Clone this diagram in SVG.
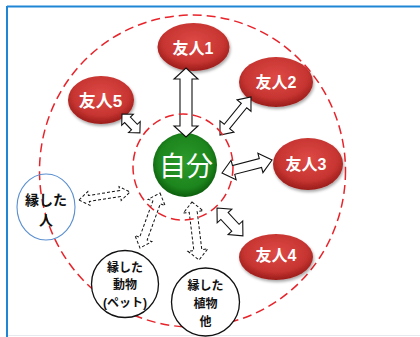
<svg xmlns="http://www.w3.org/2000/svg" width="420" height="337" viewBox="0 0 420 337">
<defs>
<radialGradient id="gRed" cx="50%" cy="40%" r="60%">
<stop offset="0" stop-color="#de4a46"/>
<stop offset="0.7" stop-color="#c73531"/>
<stop offset="1" stop-color="#9a1c1a"/>
</radialGradient>
<radialGradient id="gGreen" cx="50%" cy="45%" r="55%">
<stop offset="0" stop-color="#2b9a2b"/>
<stop offset="0.75" stop-color="#1d851d"/>
<stop offset="1" stop-color="#0c5e0c"/>
</radialGradient>
<filter id="sh" x="-30%" y="-30%" width="160%" height="170%">
<feDropShadow dx="1" dy="2" stdDeviation="1.6" flood-color="#000" flood-opacity="0.35"/>
</filter>
</defs>
<style>
.frame{fill:none;stroke:#1f86d6;stroke-width:2}
.rdash{fill:none;stroke:#e8232a;stroke-width:1.5;stroke-dasharray:9 5}
.friend{fill:url(#gRed);filter:url(#sh)}
.ft{font-family:"Liberation Sans","Noto Sans CJK JP",sans-serif;font-weight:bold;font-size:16px;fill:#fff;text-anchor:middle}
.bt{font-family:"Liberation Sans","Noto Sans CJK JP",sans-serif;font-weight:bold;font-size:12px;fill:#111;text-anchor:middle}
.arr{fill:#fff;stroke:#111;stroke-width:1.1;stroke-linejoin:miter}
.darr{fill:#fff;stroke:#111;stroke-width:1;stroke-dasharray:3 2}
.wc{fill:#fff;stroke:#111;stroke-width:1.3}
</style>
<rect x="0" y="0" width="420" height="337" fill="#fff"/>
<line x1="7" y1="6.5" x2="420" y2="6.5" class="frame"/>
<line x1="7" y1="6" x2="7" y2="337" class="frame"/>
<line x1="8" y1="335.5" x2="420" y2="335.5" stroke="#e6e9ee" stroke-width="1"/>

<g id="outer-circle"><ellipse cx="192.5" cy="171" rx="153" ry="156" class="rdash"/></g>

<g id="node-en-hito">
<ellipse cx="46" cy="207" rx="29" ry="33" fill="none" stroke="#5b8fd0" stroke-width="1.1"/>
<text x="46" y="205" class="bt" style="font-size:14px">縁した</text>
<text x="46" y="225" class="bt" style="font-size:14px">人</text>
</g>

<g id="node-doubutsu">
<circle cx="125" cy="284" r="33.5" class="wc"/>
<text x="125" y="271.5" class="bt">縁した</text>
<text x="125" y="289" class="bt">動物</text>
<text x="125" y="306.5" class="bt">(ペット)</text>
</g>

<g id="node-shokubutsu">
<circle cx="205.5" cy="302" r="34" class="wc"/>
<text x="205.5" y="289.5" class="bt">縁した</text>
<text x="205.5" y="307.5" class="bt">植物</text>
<text x="205.5" y="326" class="bt">他</text>
</g>

<g id="node-yujin1"><ellipse cx="193.5" cy="47" rx="36" ry="24" class="friend"/><text x="193" y="54" class="ft">友人1</text></g>
<g id="node-yujin2"><ellipse cx="276" cy="82" rx="37" ry="25" class="friend"/><text x="276" y="88" class="ft">友人2</text></g>
<g id="node-yujin3"><ellipse cx="308" cy="164" rx="35" ry="26" class="friend"/><text x="306" y="169.5" class="ft">友人3</text></g>
<g id="node-yujin4"><ellipse cx="276" cy="257" rx="37" ry="23" class="friend"/><text x="276" y="261" class="ft">友人4</text></g>
<g id="node-yujin5"><ellipse cx="101" cy="100" rx="33" ry="24" class="friend"/><text x="100.5" y="106.5" class="ft" style="font-size:17px">友人5</text></g>

<g id="node-jibun">
<circle cx="185" cy="165" r="32" fill="url(#gGreen)"/>
<text x="186" y="175.5" font-family="Noto Sans CJK JP, sans-serif" font-size="27" fill="#fff" text-anchor="middle">自分</text>
</g>

<g id="connectors">
<polygon class="arr" transform="translate(186,68) rotate(90)" points="0,0 11,-12 11,-6 58,-6 58,-12 69,0 58,12 58,6 11,6 11,12"/>
<polygon class="arr" transform="translate(220,135) rotate(-50.8)" points="0,0 11,-9 11,-3.5 38,-3.5 38,-9 49,0 38,9 38,3.5 11,3.5 11,9"/>
<polygon class="arr" transform="translate(222,173) rotate(-14.6)" points="0,0 12,-10 12,-4.5 39.7,-4.5 39.7,-10 51.7,0 39.7,10 39.7,4.5 12,4.5 12,10"/>
<polygon class="arr" transform="translate(217,208) rotate(47)" points="0,0 11,-10 11,-5 27,-5 27,-10 38,0 27,10 27,5 11,5 11,10"/>
<polygon class="arr" transform="translate(122,114) rotate(46.5)" points="0,0 8,-8 8,-4 18,-4 18,-8 26,0 18,8 18,4 8,4 8,8"/>
<polygon class="darr" transform="translate(79,200) rotate(-8.9)" points="0,0 10,-7 10,-3 41.6,-3 41.6,-7 51.6,0 41.6,7 41.6,3 10,3 10,7"/>
<polygon class="darr" transform="translate(160,193) rotate(110)" points="0,0 10,-9 10,-4 48.5,-4 48.5,-9 58.5,0 48.5,9 48.5,4 10,4 10,9"/>
<polygon class="darr" transform="translate(192,202) rotate(83.1)" points="0,0 10,-10 10,-4 48.4,-4 48.4,-10 58.4,0 48.4,10 48.4,4 10,4 10,10"/>
</g>

<g id="inner-circle"><ellipse cx="183" cy="167" rx="50" ry="53" class="rdash"/></g>
</svg>
